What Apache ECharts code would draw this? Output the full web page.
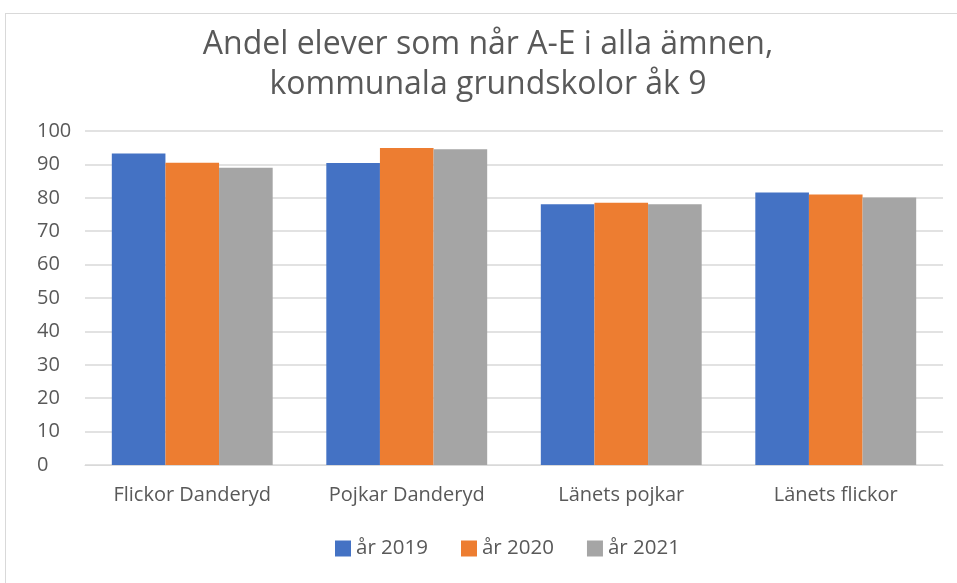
<!DOCTYPE html>
<html>
<head>
<meta charset="utf-8">
<script src="https://cdn.jsdelivr.net/npm/echarts@6/dist/echarts.min.js"></script>
<style>
  html, body { margin: 0; padding: 0; background: #fff; }
  #frame { position: absolute; left: 5px; top: 13px; width: 960px; height: 580px; border-left: 1px solid #d9d9d9; border-top: 1px solid #d9d9d9; box-sizing: border-box; }
  #main { position: absolute; left: 0; top: 0; width: 957px; height: 583px; }
</style>
</head>
<body>
<div id="frame"></div>
<div id="main"></div>
<script>
const categories = ['Flickor Danderyd', 'Pojkar Danderyd', 'Länets pojkar', 'Länets flickor'];
const years = ['år 2019', 'år 2020', 'år 2021'];
const values2019 = [93.3, 90.4, 78.1, 81.6];
const values2020 = [90.5, 94.9, 78.5, 81.0];
const values2021 = [89.0, 94.5, 78.1, 80.1];
const colors = ['#4472c4', '#ed7d31', '#a5a5a5'];

let chart = echarts.init(document.getElementById('main'));
const font = 'Open Sans';
let option = {
  animation: false,
  title: {
    text: 'Andel elever som når A-E i alla ämnen,\nkommunala grundskolor åk 9',
    left: 483,
    textAlign: 'center',
    top: 20,
    textStyle: { fontFamily: font, fontWeight: 'normal', fontSize: 32, color: '#595959', lineHeight: 40 }
  },
  legend: {
    bottom: 19,
    left: 330,
    itemWidth: 16,
    itemHeight: 16,
    itemGap: 33,
    icon: 'rect',
    textStyle: { fontFamily: font, fontSize: 20.5, color: '#595959' },
    data: years
  },
  grid: { left: 85, right: 14, top: 131, bottom: 118 },
  xAxis: {
    type: 'category',
    data: categories,
    axisLine: { lineStyle: { color: '#d9d9d9' } },
    axisTick: { show: false },
    axisLabel: { fontFamily: font, fontSize: 20, color: '#595959', margin: 20 }
  },
  yAxis: {
    type: 'value',
    min: 0,
    max: 100,
    interval: 10,
    axisLine: { show: false },
    axisTick: { show: false },
    splitLine: { lineStyle: { color: '#d9d9d9', width: 1.5 } },
    axisLabel: { fontFamily: font, fontSize: 20, color: '#595959', margin: 48, align: 'left' }
  },
  series: [
    { name: years[0], type: 'bar', data: values2019, itemStyle: { color: colors[0] }, barGap: '0%', barCategoryGap: '25%' },
    { name: years[1], type: 'bar', data: values2020, itemStyle: { color: colors[1] }, barGap: '0%', barCategoryGap: '25%' },
    { name: years[2], type: 'bar', data: values2021, itemStyle: { color: colors[2] }, barGap: '0%', barCategoryGap: '25%' }
  ]
};
chart.setOption(option);
</script>
</body>
</html>
